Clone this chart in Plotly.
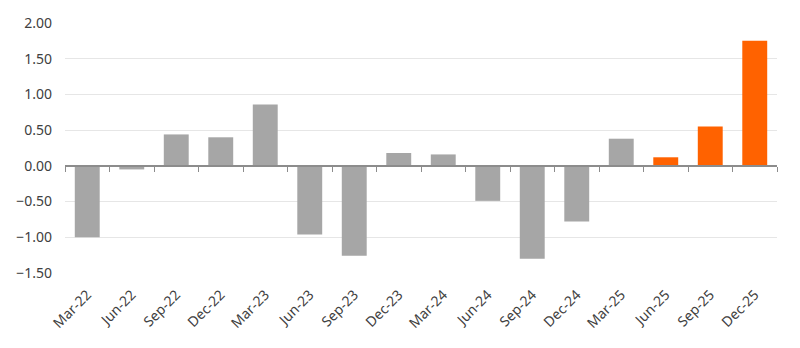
import plotly.graph_objects as go

categories = ["Mar-22", "Jun-22", "Sep-22", "Dec-22", "Mar-23", "Jun-23", "Sep-23", "Dec-23",
              "Mar-24", "Jun-24", "Sep-24", "Dec-24", "Mar-25", "Jun-25", "Sep-25", "Dec-25"]
values = [-1.00, -0.05, 0.44, 0.40, 0.86, -0.96, -1.26, 0.18,
          0.16, -0.49, -1.30, -0.78, 0.38, 0.12, 0.55, 1.75]
forecast = [False] * 13 + [True] * 3
y_ticks = [-1.5, -1.0, -0.5, 0.0, 0.5, 1.0, 1.5, 2.0]

GREY = "#a6a6a6"
ORANGE = "#ff6200"
colors = [ORANGE if f else GREY for f in forecast]

y_range = [-1.5, 2.0]
zero_pos = (0 - y_range[0]) / (y_range[1] - y_range[0])
x_range = [-0.5, len(categories) - 0.5]

fig = go.Figure()
fig.add_trace(go.Bar(x=categories, y=values, marker=dict(color=colors, line=dict(width=0)),
                     width=0.56, hoverinfo="x+y", xaxis="x", yaxis="y"))
fig.add_trace(go.Scatter(x=categories, y=values, mode="markers", marker=dict(opacity=0),
                         hoverinfo="skip", xaxis="x2", yaxis="y", showlegend=False))

font_family = "Noto Sans, Lato, sans-serif"
fig.update_layout(
    width=800, height=348,
    margin=dict(l=65, r=23, t=23, b=75),
    paper_bgcolor="white", plot_bgcolor="white",
    showlegend=False,
    font=dict(family=font_family, size=13, color="#404040"),
    xaxis=dict(type="category", categoryorder="array", categoryarray=categories,
               range=x_range, tickangle=-45, showgrid=False, showline=False,
               zeroline=False, ticks="", ticklabelstandoff=10,
               tickfont=dict(size=14, color="#404040")),
    xaxis2=dict(type="category", categoryorder="array", categoryarray=categories,
                range=x_range, overlaying="x", anchor="free", position=zero_pos,
                showline=True, linecolor="#8c8c8c", linewidth=1.5,
                ticks="outside", tickson="boundaries", ticklen=5, tickcolor="#8c8c8c",
                showticklabels=False, showgrid=False, zeroline=False),
    yaxis=dict(range=y_range, tickvals=y_ticks, tickformat=".2f",
               showgrid=True, gridcolor="#e6e6e6", gridwidth=1, zeroline=False,
               showline=False, ticks="", ticklabelstandoff=12,
               tickfont=dict(size=14, color="#404040")),
    bargap=0.44,
)

fig.write_html("out.html")
